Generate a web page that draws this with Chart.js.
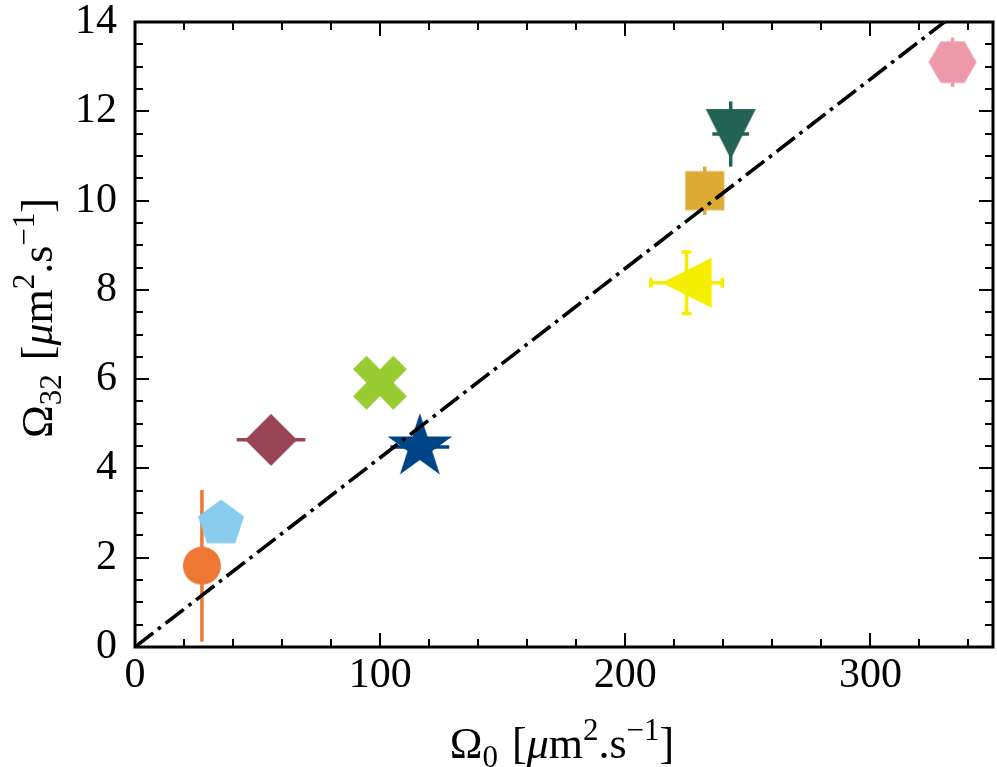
<!DOCTYPE html>
<html>
<head>
<meta charset="utf-8">
<script src="https://cdn.jsdelivr.net/npm/chart.js@4.4.1/dist/chart.umd.min.js"></script>
<style>
  body { margin: 0; background: #fff; }
  #wrap { width: 997px; height: 767px; }
</style>
</head>
<body>
<div id="wrap"><canvas id="chart" width="997" height="767"></canvas></div>
<script>
// donnees
const omega0 = [27.3, 35.1, 55.5, 99.9, 116.2, 225.0, 232.4, 243.0, 333.5];
const omega32 = [1.82, 2.76, 4.64, 5.92, 4.48, 8.16, 10.22, 11.49, 13.1];
const xErr = [0, 0, 14, 0, 12, 14.6, 0, 7.5, 0];
const yErr = [1.7, 0, 0, 0, 0, 0.69, 0.54, 0.73, 0.55];
const markerShapes = ['circle', 'pentagon', 'diamond', 'xfill', 'star', 'triLeft', 'square', 'triDown', 'hexagon'];
const markerColors = ['#EE7733', '#88CCEE', '#994455', '#99CC33', '#004488', '#F5EE00', '#DDAA33', '#226355', '#EE99AA'];
const capSizes = [0, 0, 0, 0, 0, 8, 0, 0, 0];
// droite de reference (tiret-point)
const fitX = [0, 350];
const fitY = [0, 14.84];
const xTicks = [0, 100, 200, 300];
const yTicks = [0, 2, 4, 6, 8, 10, 12, 14];

const FONT = '"Liberation Serif", "Times New Roman", serif';

function polygon(ctx, n, r, rot) {
    ctx.beginPath();
    for (let i = 0; i < n; i++) {
        const a = rot + i * 2 * Math.PI / n;
        const px = r * Math.cos(a), py = r * Math.sin(a);
        if (i === 0) ctx.moveTo(px, py); else ctx.lineTo(px, py);
    }
    ctx.closePath();
}

// dessine un marqueur plein dans un petit canvas (utilise comme pointStyle)
function makeMarker(shape, color) {
    const c = document.createElement('canvas');
    c.width = 76; c.height = 76;
    const g = c.getContext('2d');
    g.translate(38, 38);
    g.fillStyle = color;
    const up = -Math.PI / 2;
    if (shape === 'circle') {
        g.beginPath(); g.arc(0, 0, 19, 0, 2 * Math.PI);
    } else if (shape === 'pentagon') {
        polygon(g, 5, 24.2, up);
    } else if (shape === 'diamond') {
        polygon(g, 4, 26, up);
    } else if (shape === 'square') {
        g.beginPath(); g.rect(-19.5, -19.5, 39, 39);
    } else if (shape === 'hexagon') {
        polygon(g, 6, 24, 0);
    } else if (shape === 'triDown') {
        g.beginPath(); g.moveTo(0, 25); g.lineTo(-25, -25); g.lineTo(25, -25); g.closePath();
    } else if (shape === 'triLeft') {
        g.beginPath(); g.moveTo(-25, 0); g.lineTo(25, -25); g.lineTo(25, 25); g.closePath();
    } else if (shape === 'star') {
        g.beginPath();
        const R = 34, r = 34 * 0.381966;
        for (let i = 0; i < 10; i++) {
            const a = up + i * Math.PI / 5;
            const rr = i % 2 === 0 ? R : r;
            if (i === 0) g.moveTo(rr * Math.cos(a), rr * Math.sin(a));
            else g.lineTo(rr * Math.cos(a), rr * Math.sin(a));
        }
        g.closePath();
    } else if (shape === 'xfill') {
        g.rotate(Math.PI / 4);
        const L = 28.6, w = 9.6;
        g.beginPath();
        g.moveTo(-w, -L); g.lineTo(w, -L); g.lineTo(w, -w); g.lineTo(L, -w);
        g.lineTo(L, w); g.lineTo(w, w); g.lineTo(w, L); g.lineTo(-w, L);
        g.lineTo(-w, w); g.lineTo(-L, w); g.lineTo(-L, -w); g.lineTo(-w, -w);
        g.closePath();
    }
    g.fill();
    return c;
}

const pointImages = markerShapes.map((s, i) => makeMarker(s, markerColors[i]));

// barres d'erreur (sous les marqueurs)
const errorBarPlugin = {
    id: 'errorBars',
    beforeDatasetsDraw(chart) {
        const ctx = chart.ctx;
        const xs = chart.scales.x, ys = chart.scales.y;
        ctx.save();
        ctx.lineWidth = 3.5;
        ctx.lineCap = 'butt';
        for (let i = 0; i < omega0.length; i++) {
            ctx.strokeStyle = markerColors[i];
            const px = xs.getPixelForValue(omega0[i]);
            const py = ys.getPixelForValue(omega32[i]);
            const cap = capSizes[i];
            if (yErr[i] > 0) {
                const y1 = ys.getPixelForValue(omega32[i] - yErr[i]);
                const y2 = ys.getPixelForValue(omega32[i] + yErr[i]);
                ctx.beginPath(); ctx.moveTo(px, y1); ctx.lineTo(px, y2); ctx.stroke();
                if (cap) {
                    ctx.beginPath();
                    ctx.moveTo(px - cap / 2 - 1, y1); ctx.lineTo(px + cap / 2 + 1, y1);
                    ctx.moveTo(px - cap / 2 - 1, y2); ctx.lineTo(px + cap / 2 + 1, y2);
                    ctx.stroke();
                }
            }
            if (xErr[i] > 0) {
                const x1 = xs.getPixelForValue(omega0[i] - xErr[i]);
                const x2 = xs.getPixelForValue(omega0[i] + xErr[i]);
                ctx.beginPath(); ctx.moveTo(x1, py); ctx.lineTo(x2, py); ctx.stroke();
                if (cap) {
                    ctx.beginPath();
                    ctx.moveTo(x1, py - cap / 2 - 1); ctx.lineTo(x1, py + cap / 2 + 1);
                    ctx.moveTo(x2, py - cap / 2 - 1); ctx.lineTo(x2, py + cap / 2 + 1);
                    ctx.stroke();
                }
            }
        }
        ctx.restore();
    }
};

// texte avec indices / exposants
function drawRich(ctx, parts, x, y, rot) {
    ctx.save();
    ctx.translate(x, y);
    ctx.rotate(rot);
    ctx.fillStyle = '#000';
    ctx.textBaseline = 'alphabetic';
    const fontFor = p => (p.it ? 'italic ' : '') + (p.sub || p.sup ? 31 : 44) + 'px ' + FONT;
    let total = 0;
    parts.forEach(p => { ctx.font = fontFor(p); total += ctx.measureText(p.t).width + (p.gap || 0); });
    let cx = -total / 2;
    parts.forEach(p => {
        ctx.font = fontFor(p);
        const dy = p.sub ? 9 : (p.sup ? -18 : 0);
        ctx.fillText(p.t, cx, dy);
        cx += ctx.measureText(p.t).width + (p.gap || 0);
    });
    ctx.restore();
}

const xTitle = [{ t: 'Ω' }, { t: '0', sub: true, gap: 14 }, { t: '[' }, { t: 'μ', it: true }, { t: 'm' }, { t: '2', sup: true }, { t: '.s' }, { t: '−1', sup: true }, { t: ']' }];
const yTitle = [{ t: 'Ω' }, { t: '32', sub: true, gap: 14 }, { t: '[' }, { t: 'μ', it: true }, { t: 'm' }, { t: '2', sup: true }, { t: '.s' }, { t: '−1', sup: true }, { t: ']' }];

// cadre, graduations vers l'interieur, titres des axes
const framePlugin = {
    id: 'frame',
    afterDraw(chart) {
        const ctx = chart.ctx;
        const a = chart.chartArea;
        const xs = chart.scales.x, ys = chart.scales.y;
        ctx.save();
        ctx.strokeStyle = '#000';
        ctx.lineWidth = 2;
        ctx.beginPath();
        for (let v = 0; v <= 350; v += 20) {
            const px = Math.round(xs.getPixelForValue(v));
            const len = v % 100 === 0 ? 14 : 8;
            ctx.moveTo(px, a.bottom); ctx.lineTo(px, a.bottom - len);
            ctx.moveTo(px, a.top); ctx.lineTo(px, a.top + len);
        }
        for (let v = 0; v <= 14; v += 0.5) {
            const py = Math.round(ys.getPixelForValue(v));
            const len = v % 2 === 0 ? 14 : 8;
            ctx.moveTo(a.left, py); ctx.lineTo(a.left + len, py);
            ctx.moveTo(a.right, py); ctx.lineTo(a.right - len, py);
        }
        ctx.stroke();
        ctx.lineWidth = 3;
        ctx.strokeRect(a.left, a.top, a.right - a.left, a.bottom - a.top);
        ctx.restore();
        drawRich(ctx, xTitle, 562, 758, 0);
        drawRich(ctx, yTitle, 52, 318, -Math.PI / 2);
    }
};

const ctx = document.getElementById('chart').getContext('2d');
const chart = new Chart(ctx, {
    type: 'scatter',
    data: {
        datasets: [{
            label: 'mesures',
            data: omega0.map((x, i) => ({ x: x, y: omega32[i] })),
            pointStyle: pointImages,
            pointRadius: 20,
            order: 1
        }, {
            type: 'line',
            label: 'ajustement',
            data: fitX.map((x, i) => ({ x: x, y: fitY[i] })),
            borderColor: '#000',
            borderWidth: 3.6,
            borderDash: [23, 6, 3.6, 6],
            borderCapStyle: 'butt',
            pointRadius: 0,
            fill: false,
            order: 0
        }]
    },
    options: {
        responsive: false,
        animation: false,
        events: [],
        layout: { autoPadding: false, padding: { left: 0, right: 4, top: 22, bottom: 0 } },
        plugins: { legend: { display: false }, tooltip: { enabled: false } },
        scales: {
            x: {
                type: 'linear',
                min: 0, max: 350,
                grid: { display: false, drawTicks: false },
                border: { display: false },
                afterFit: s => { s.height = 120; s.paddingLeft = 0; s.paddingRight = 0; },
                afterBuildTicks: s => { s.ticks = xTicks.map(v => ({ value: v })); },
                ticks: { color: '#000', font: { family: FONT, size: 42 }, padding: 4, maxRotation: 0 }
            },
            y: {
                type: 'linear',
                min: 0, max: 14,
                grid: { display: false, drawTicks: false },
                border: { display: false },
                afterFit: s => { s.width = 135; s.paddingTop = 0; s.paddingBottom = 0; },
                afterBuildTicks: s => { s.ticks = yTicks.map(v => ({ value: v })); },
                ticks: { color: '#000', font: { family: FONT, size: 42 }, padding: 18 }
            }
        }
    },
    plugins: [errorBarPlugin, framePlugin]
});
</script>
</body>
</html>
